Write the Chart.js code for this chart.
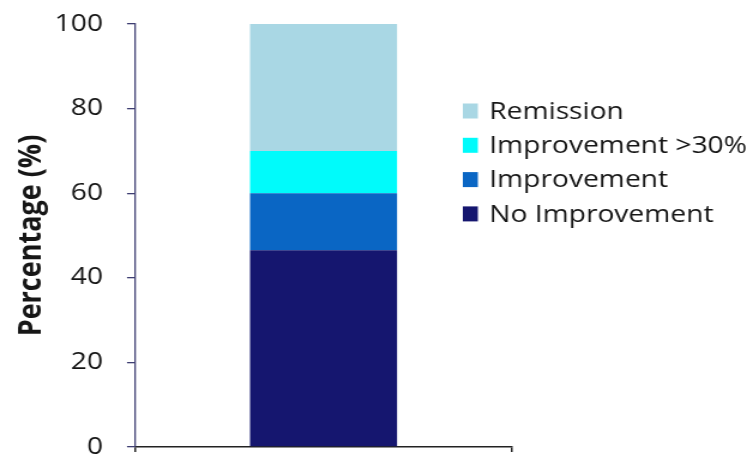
<!DOCTYPE html>
<html>
<head>
<meta charset="utf-8">
<style>
  html, body { margin: 0; padding: 0; background: #ffffff; overflow: hidden; }
  /* the figure is drawn on a narrower canvas and widened to 753px */
  #wrap { width: 628px; height: 459px; transform: scaleX(1.1991); transform-origin: 0 0; }
  canvas { display: block; }
</style>
<script src="https://cdn.jsdelivr.net/npm/chart.js@4/dist/chart.umd.min.js"></script>
</head>
<body>
<div id="wrap"><canvas id="chart" width="628" height="459"></canvas></div>
<script>
// Outcome shares (%), stacked bottom to top
const categories = [''];
const seriesNames = ['No Improvement', 'Improvement', 'Improvement >30%', 'Remission'];
const noImprovement = [46.5];
const improvement = [13.5];
const improvement30 = [10];
const remission = [30];
const yTicks = [0, 20, 40, 60, 80, 100];

const colors = ['#15166f', '#0a66c4', '#00fbfb', '#a9d7e4'];
const values = [noImprovement, improvement, improvement30, remission];

const datasets = seriesNames.map((name, i) => ({
  label: name,
  data: values[i],
  backgroundColor: colors[i],
  borderWidth: 0,
  barPercentage: 0.39,
  categoryPercentage: 1.0
}));

const FONT = '"Open Sans", "DejaVu Sans", sans-serif';

// Legend drawn beside the bar, top entry = last dataset
const sideLegend = {
  id: 'sideLegend',
  afterDraw(chart) {
    const ctx = chart.ctx;
    const ds = chart.data.datasets.slice().reverse();
    const x0 = 386, y0 = 111, step = 34.3, boxW = 12.5, boxH = 15;
    ctx.save();
    ctx.font = '23.5px ' + FONT;
    ctx.textBaseline = 'middle';
    ctx.textAlign = 'left';
    ds.forEach((d, i) => {
      const cy = y0 + i * step;
      ctx.fillStyle = d.backgroundColor;
      ctx.fillRect(x0, cy - boxH / 2, boxW, boxH);
      ctx.fillStyle = '#161616';
      ctx.fillText(d.label, x0 + 22, cy + 1);
    });
    ctx.restore();
  }
};

new Chart(document.getElementById('chart'), {
  type: 'bar',
  data: { labels: categories, datasets },
  options: {
    responsive: false,
    animation: false,
    events: [],
    layout: { padding: { left: 0, right: 201, top: 24, bottom: 0 } },
    plugins: {
      legend: { display: false },
      tooltip: { enabled: false }
    },
    scales: {
      x: {
        stacked: true,
        offset: true,
        grid: {
          offset: true,
          drawOnChartArea: false,
          drawTicks: true,
          tickLength: 5,
          color: '#222222',
          lineWidth: 1.5
        },
        border: { display: true, color: '#222222', width: 1.5 },
        ticks: { display: false },
        afterFit(scale) { scale.height = 12; }
      },
      y: {
        stacked: true,
        min: 0,
        max: 100,
        afterBuildTicks(scale) { scale.ticks = yTicks.map(v => ({ value: v })); },
        grid: {
          drawOnChartArea: false,
          drawTicks: true,
          tickLength: 6.7,
          color: '#3f3f72',
          lineWidth: 1.3
        },
        border: { display: true, color: '#3f3f72', width: 1.3 },
        ticks: {
          padding: 20,
          color: '#141414',
          font: { family: FONT, size: 23.5 }
        },
        title: {
          display: true,
          text: 'Percentage (%)',
          color: '#161616',
          font: { family: FONT, size: 27, weight: 'bold' },
          padding: { top: 10, bottom: 0 }
        },
        afterFit(scale) {
          scale.width = 112.6;
          scale.paddingTop = 0;
          scale.paddingBottom = 0;
        }
      }
    }
  },
  plugins: [sideLegend]
});
</script>
</body>
</html>
